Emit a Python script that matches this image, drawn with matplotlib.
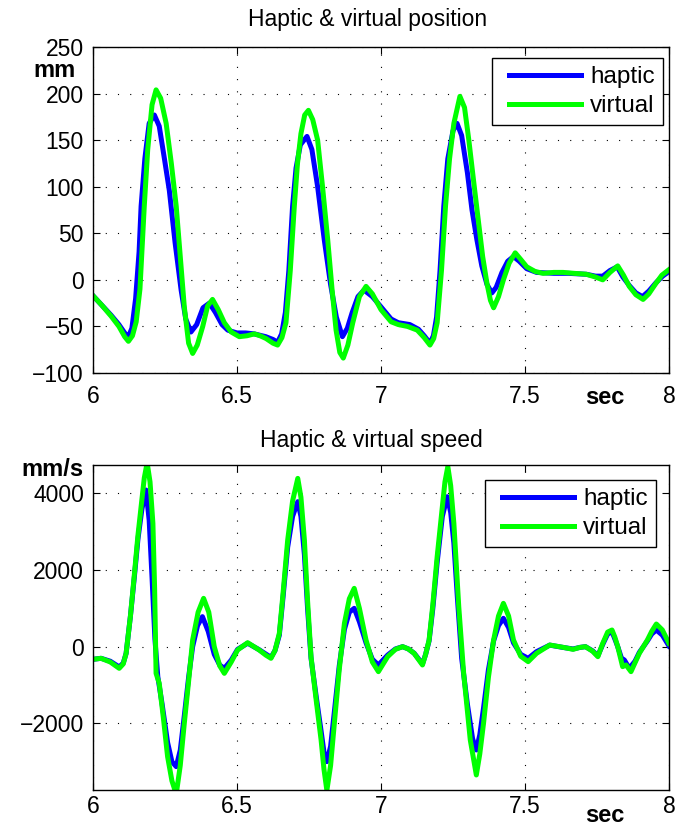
import matplotlib
matplotlib.use("Agg")
import matplotlib.pyplot as plt
from matplotlib.legend_handler import HandlerLine2D

plt.rcParams['font.family'] = ['Liberation Sans', 'DejaVu Sans']

# position (mm)
t_pos_haptic = [6.00, 6.03, 6.063, 6.09, 6.11, 6.123, 6.135, 6.148, 6.16, 6.167, 6.18, 6.195, 6.213,
                6.23, 6.248, 6.265, 6.285, 6.306, 6.322, 6.34, 6.36, 6.382, 6.404, 6.425, 6.448, 6.468,
                6.5, 6.53, 6.56, 6.6, 6.625, 6.641, 6.655, 6.668, 6.68, 6.693, 6.705, 6.72, 6.743, 6.76,
                6.78, 6.803, 6.825, 6.845, 6.866, 6.883, 6.9, 6.92, 6.941, 6.97, 7.0, 7.035, 7.06, 7.1,
                7.13, 7.15, 7.17, 7.182, 7.193, 7.205, 7.218, 7.232, 7.25, 7.264, 7.28, 7.3, 7.316, 7.333,
                7.35, 7.368, 7.385, 7.4, 7.42, 7.44, 7.46, 7.48, 7.506, 7.54, 7.6, 7.65, 7.713, 7.745,
                7.77, 7.795, 7.82, 7.84, 7.862, 7.885, 7.908, 7.93, 7.955, 7.978, 8.0]
pos_haptic = [-17, -27, -38, -48, -57, -61, -52, -20, 30, 79, 130, 168, 177,
              165, 130, 96, 40, -11, -42, -56, -48, -30, -25, -35, -48, -54,
              -57, -57, -58, -61, -64, -67, -58, -35, 10, 79, 120, 145, 154, 140,
              100, 43, -5, -40, -61, -52, -35, -18, -11, -18, -29, -42, -46, -48,
              -53, -60, -68, -60, -40, 10, 79, 130, 160, 168, 155, 115, 75, 43,
              15, -5, -14, -8, 8, 20, 25, 20, 12, 8, 7, 7, 6, 4,
              4, 10, 14, 3, -6, -14, -18, -12, -3, 4, 9]

t_pos_virtual = [6.00, 6.03, 6.063, 6.09, 6.11, 6.123, 6.137, 6.15, 6.163, 6.178, 6.19, 6.205, 6.219,
                 6.235, 6.254, 6.272, 6.289, 6.303, 6.317, 6.332, 6.346, 6.362, 6.381, 6.398, 6.415,
                 6.435, 6.456, 6.48, 6.508, 6.535, 6.56, 6.58, 6.601, 6.625, 6.641, 6.656, 6.67, 6.685,
                 6.699, 6.71, 6.722, 6.735, 6.748, 6.763, 6.78, 6.797, 6.815, 6.83, 6.844, 6.857, 6.869,
                 6.885, 6.902, 6.925, 6.948, 6.97, 7.0, 7.035, 7.06, 7.092, 7.126, 7.15, 7.17, 7.183,
                 7.195, 7.21, 7.224, 7.238, 7.253, 7.274, 7.29, 7.305, 7.322, 7.339, 7.353, 7.368, 7.38,
                 7.391, 7.408, 7.425, 7.445, 7.466, 7.485, 7.506, 7.535, 7.563, 7.6, 7.632, 7.67, 7.713,
                 7.745, 7.77, 7.795, 7.822, 7.842, 7.862, 7.885, 7.91, 7.93, 7.954, 7.975, 8.0]
pos_virtual = [-17, -27, -39, -50, -61, -66, -60, -45, -10, 79, 140, 188, 204,
               195, 168, 125, 79, 25, -29, -68, -79, -70, -50, -28, -21,
               -32, -46, -56, -61, -60, -58, -60, -63, -68, -70, -62, -46, 10,
               79, 125, 157, 177, 182, 172, 150, 100, 43, -10, -54, -78, -84,
               -70, -46, -18, -7, -15, -32, -45, -48, -50, -54, -62, -70, -63,
               -46, 10, 79, 130, 168, 197, 185, 150, 105, 61, 25, -4, -22,
               -30, -18, 0, 18, 29, 22, 14, 9, 7, 8, 8, 7, 6,
               3, 0, 8, 15, 5, -7, -16, -21, -15, -4, 5, 11]

# speed (mm/s)
t_spd_haptic = [6.00, 6.028, 6.06, 6.091, 6.105, 6.115, 6.13, 6.144, 6.156, 6.17, 6.184, 6.195, 6.205,
                6.215, 6.225, 6.24, 6.259, 6.274, 6.289, 6.303, 6.317, 6.332, 6.346, 6.363, 6.38, 6.4,
                6.421, 6.44, 6.456, 6.48, 6.502, 6.537, 6.577, 6.618, 6.632, 6.647, 6.66, 6.676, 6.693,
                6.711, 6.722, 6.734, 6.745, 6.757, 6.775, 6.792, 6.802, 6.812, 6.825, 6.838, 6.855,
                6.873, 6.89, 6.907, 6.925, 6.948, 6.97, 6.991, 7.023, 7.05, 7.075, 7.095, 7.115, 7.144,
                7.155, 7.167, 7.18, 7.195, 7.213, 7.23, 7.242, 7.253, 7.265, 7.28, 7.3, 7.318, 7.331,
                7.343, 7.356, 7.373, 7.391, 7.408, 7.425, 7.443, 7.46, 7.485, 7.511, 7.54, 7.586, 7.632,
                7.667, 7.69, 7.71, 7.735, 7.753, 7.77, 7.787, 7.802, 7.812, 7.822, 7.835, 7.845, 7.862,
                7.882, 7.897, 7.925, 7.94, 7.956, 7.977, 8.0]
spd_haptic = [-330, -304, -380, -530, -430, -174, 800, 1850, 2800, 3600, 4087, 3300, 1800,
              200, -783, -1500, -2500, -3000, -3130, -2700, -1800, -800, 0, 550, 783, 400,
              -200, -480, -565, -350, -70, 90, -80, -280, -100, 300, 1300, 2600, 3400,
              3783, 3400, 2400, 1000, -300, -1300, -2200, -2750, -3000, -2600, -1700, -500,
              450, 900, 1000, 650, 100, -330, -478, -220, -60, 0, -60, -170, -450,
              -200, 150, 1000, 2200, 3400, 3913, 3500, 2700, 1300, -300, -1500, -2400, -2696,
              -2300, -1600, -600, 150, 550, 739, 500, 100, -200, -304, -130, 40, -20,
              -60, -20, 0, -110, -240, 60, 330, 391, 200, 0, -300, -348, -565,
              -380, -150, 150, 330, 435, 300, 17]

t_spd_virtual = [6.00, 6.028, 6.06, 6.091, 6.105, 6.115, 6.13, 6.144, 6.156, 6.167, 6.178, 6.188, 6.198,
                 6.208, 6.214, 6.219, 6.23, 6.245, 6.259, 6.274, 6.289, 6.303, 6.317, 6.332, 6.346,
                 6.365, 6.384, 6.402, 6.421, 6.44, 6.456, 6.48, 6.502, 6.537, 6.577, 6.6, 6.618, 6.632,
                 6.647, 6.66, 6.676, 6.693, 6.711, 6.722, 6.734, 6.745, 6.757, 6.775, 6.792, 6.802,
                 6.812, 6.825, 6.838, 6.855, 6.873, 6.89, 6.907, 6.925, 6.948, 6.97, 6.991, 7.023, 7.05,
                 7.075, 7.095, 7.115, 7.144, 7.155, 7.167, 7.18, 7.195, 7.213, 7.222, 7.232, 7.242,
                 7.253, 7.27, 7.287, 7.31, 7.331, 7.343, 7.356, 7.373, 7.391, 7.408, 7.425, 7.443, 7.46,
                 7.485, 7.511, 7.54, 7.586, 7.632, 7.667, 7.69, 7.71, 7.735, 7.753, 7.77, 7.787, 7.802,
                 7.812, 7.822, 7.839, 7.851, 7.868, 7.882, 7.897, 7.925, 7.94, 7.956, 7.977, 8.0]
spd_virtual = [-330, -304, -400, -565, -450, -174, 800, 1913, 2900, 3652, 4400, 4800, 4300,
               3217, 1500, -696, -957, -1900, -2870, -3500, -3850, -3100, -2000, -900, 174,
               900, 1261, 900, 0, -500, -696, -400, -87, 104, -87, -220, -304, -100,
               348, 1400, 2783, 3800, 4391, 3900, 2783, 1200, -261, -1400, -2435, -3200,
               -3750, -3100, -2000, -600, 609, 1250, 1522, 1000, 174, -400, -652, -261, -70,
               0, -60, -174, -478, -200, 174, 1100, 2348, 3652, 4300, 4700, 4200,
               3217, 1043, -696, -2435, -3348, -2800, -2000, -800, 174, 800, 1130, 800, 174,
               -250, -391, -174, 43, -17, -70, -20, 0, -120, -261, 87, 380, 435,
               250, 0, -522, -478, -652, -420, -174, 174, 400, 591, 435, 87]

x_ticks = [6, 6.5, 7, 7.5, 8]
x_tick_labels = ['6', '6.5', '7', '7.5', '8']
pos_ticks = [-100, -50, 0, 50, 100, 150, 200, 250]
spd_ticks = [-2000, 0, 2000, 4000]

W, H = 677, 827
fig = plt.figure(figsize=(W / 100, H / 100), dpi=100)
ax1 = fig.add_axes([93 / W, (H - 373) / H, 576 / W, 326 / H])
ax2 = fig.add_axes([93 / W, (H - 790) / H, 576 / W, 325 / H])

blue = (0, 0, 1)
green = (0, 1, 0)


class PaddedLine(HandlerLine2D):
    # matlab-style legend: some empty room left of the sample line
    def get_xdata(self, legend, xdescent, ydescent, width, height, fontsize):
        return [-xdescent + 0.35 * fontsize, -xdescent + width], [-xdescent + width / 2]


def style(ax, yticks, ylim, xpad):
    ax.set_xlim(6, 8)
    ax.set_ylim(*ylim)
    ax.set_xticks(x_ticks)
    ax.set_xticklabels(x_tick_labels)
    ax.set_yticks(yticks)
    ax.tick_params(direction='in', length=5, width=0.8, top=True, right=True,
                   labelsize=16.5, colors='black')
    ax.tick_params(axis='y', pad=6.5)
    ax.tick_params(axis='x', pad=xpad)
    ax.grid(True, color='black', linestyle=(0, (1, 10)), linewidth=0.8)
    for s in ax.spines.values():
        s.set_linewidth(1.0)
        s.set_color('black')


def add_legend(ax, anchor):
    lines = ax.get_lines()
    leg = ax.legend(handler_map={l: PaddedLine() for l in lines},
                    loc='upper right', bbox_to_anchor=anchor,
                    borderaxespad=0, fontsize=17.5, fancybox=False, framealpha=1,
                    edgecolor='black', handlelength=3.3, handletextpad=0.4,
                    labelspacing=0.3, borderpad=0.33)
    leg.get_frame().set_linewidth(1.0)
    return leg


ax1.plot(t_pos_haptic, pos_haptic, color=blue, lw=3.6, label='haptic')
ax1.plot(t_pos_virtual, pos_virtual, color=green, lw=3.6, label='virtual')
style(ax1, pos_ticks, (-100, 250), 9.0)
ax1.text(0.476, 1.064, 'Haptic & virtual position', transform=ax1.transAxes,
         ha='center', va='baseline', fontsize=16.5)
ax1.text((54.5 - 93) / 576, (373 - 70.5) / 326, 'mm', transform=ax1.transAxes,
         ha='center', va='center', fontsize=17, fontweight='bold')
ax1.text((604.7 - 93) / 576, (373 - 398) / 326, 'sec', transform=ax1.transAxes,
         ha='center', va='center', fontsize=17, fontweight='bold')
add_legend(ax1, ((663 - 93) / 576, (373 - 58) / 326))

ax2.plot(t_spd_haptic, spd_haptic, color=blue, lw=3.6, label='haptic')
ax2.plot(t_spd_virtual, spd_virtual, color=green, lw=3.6, label='virtual')
style(ax2, spd_ticks, (-3740, 4740), 3.6)
ax2.text(0.483, 1.055, 'Haptic & virtual speed', transform=ax2.transAxes,
         ha='center', va='baseline', fontsize=16.5)
ax2.text((52 - 93) / 576, (790 - 469) / 325, 'mm/s', transform=ax2.transAxes,
         ha='center', va='center', fontsize=17, fontweight='bold')
ax2.text((604.7 - 93) / 576, (790 - 815.5) / 325, 'sec', transform=ax2.transAxes,
         ha='center', va='center', fontsize=17, fontweight='bold')
add_legend(ax2, ((656 - 93) / 576, (790 - 480) / 325))

fig.savefig('out.png', dpi=100)
